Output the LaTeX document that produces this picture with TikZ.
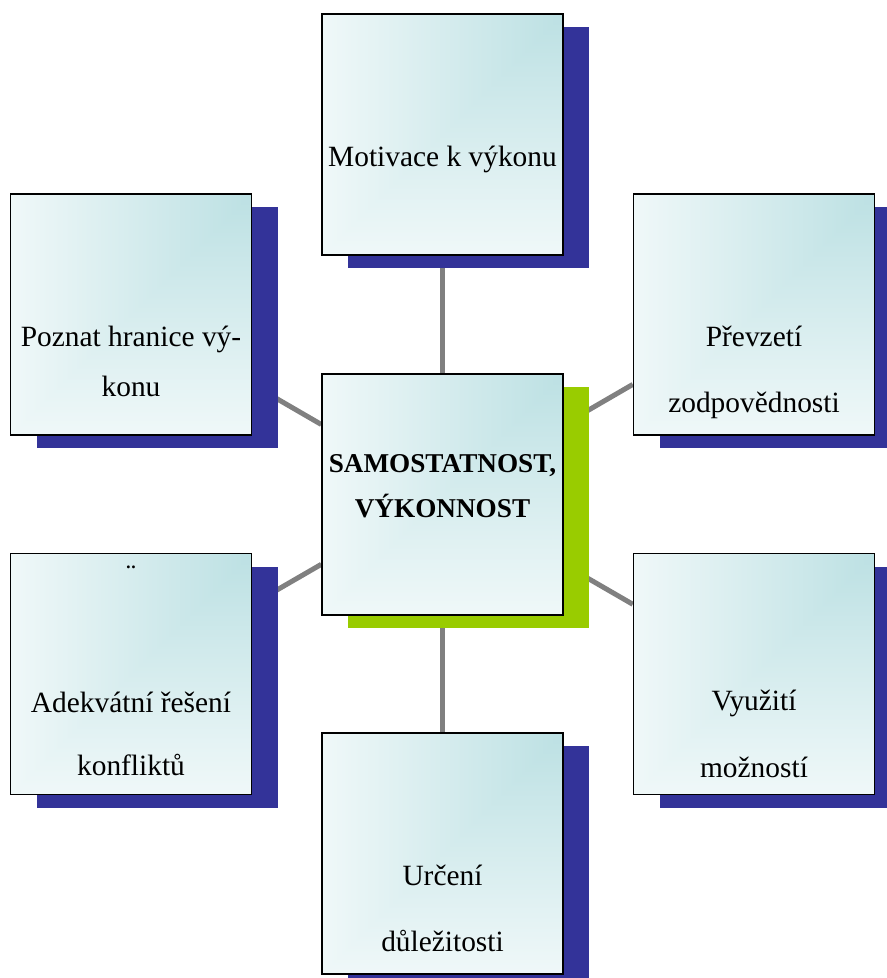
\documentclass[tikz,border=0pt]{standalone}
\usepackage{fontspec}
\setmainfont{Liberation Serif}
\usetikzlibrary{shadows, backgrounds, calc}

\definecolor{shadowblue}{RGB}{51,51,153}
\definecolor{shadowgreen}{RGB}{153,204,0}
\definecolor{linkgray}{RGB}{128,128,128}

% teal in the upper right corner, white towards the left and bottom edges
\pgfdeclarefunctionalshading{cornerglow}{\pgfpoint{-50bp}{-50bp}}{\pgfpoint{50bp}{50bp}}{}{
  50 exch sub exch 50 exch sub
  2 copy lt {exch} if pop
  100 div 0.2 sub 0.7 div
  dup 0 lt {pop 0} if dup 1 gt {pop 1} if
  dup 0.282 mul 0.718 add exch
  dup 0.129 mul 0.871 add exch
  0.118 mul 0.882 add
}

\begin{document}
\begin{tikzpicture}[x=0.5pt, y=-0.5pt,
  box/.style={draw=black, line width=0.75pt, shading=cornerglow,
    minimum width=120.5pt, minimum height=120.5pt, inner sep=0pt,
    drop shadow={shadow xshift=13pt, shadow yshift=-6.5pt, fill=#1, opacity=1}},
  box/.default=shadowblue,
  txt/.style={anchor=base, align=center, font=\fontsize{14.7}{25}\selectfont},
  hubtxt/.style={anchor=base, align=center, font=\bfseries\fontsize{13.6}{22.5}\selectfont},
  link/.style={draw=linkgray, line width=2.5pt}]
% Page size in px
\useasboundingbox (0,0) rectangle (887,978);

% Boxes
\node[box] (motiv) at (442.5,134.5) {};
\node[box] (hranice) at (131,314.5) {};
\node[box] (prevzeti) at (754,314.5) {};
\node[box=shadowgreen] (hub) at (442.5,494.5) {};
\node[box] (konflikt) at (131,674) {};
\node[box] (vyuziti) at (754,674) {};
\node[box] (urceni) at (442.5,853.5) {};

% Texts (base = last line)
\node[txt] (motivtext) at ($(motiv)+(0,32.5)$) {Motivace k výkonu};
\node[txt] (hranicetext) at ($(hranice)+(0,81.5)$) {Poznat hranice vý-\\konu};
\node[txt] (prevzetitext) at ($(prevzeti)+(0,97.5)$) {Převzetí\\[8pt]zodpovědnosti};
\node[hubtxt] (hubtext) at ($(hub)+(0,22.5)$) {SAMOSTATNOST,\\VÝKONNOST};
\node[txt] (trema) at ($(konflikt)+(0,-90)$) {¨};
\node[txt] (konflikttext) at ($(konflikt)+(0,101)$) {Adekvátní řešení\\[6.5pt]konfliktů};
\node[txt] (vyuzititext) at ($(vyuziti)+(0,103)$) {Využití\\[8.5pt]možností};
\node[txt] (urcenitext) at ($(urceni)+(0,97.5)$) {Určení\\[8pt]důležitosti};

% Connectors behind the boxes
\begin{pgfonlayer}{background}
\foreach \n in {motiv, hranice, prevzeti, konflikt, vyuziti, urceni}
  \draw[link] (hub) -- (\n);
\end{pgfonlayer}

\end{tikzpicture}
\end{document}
